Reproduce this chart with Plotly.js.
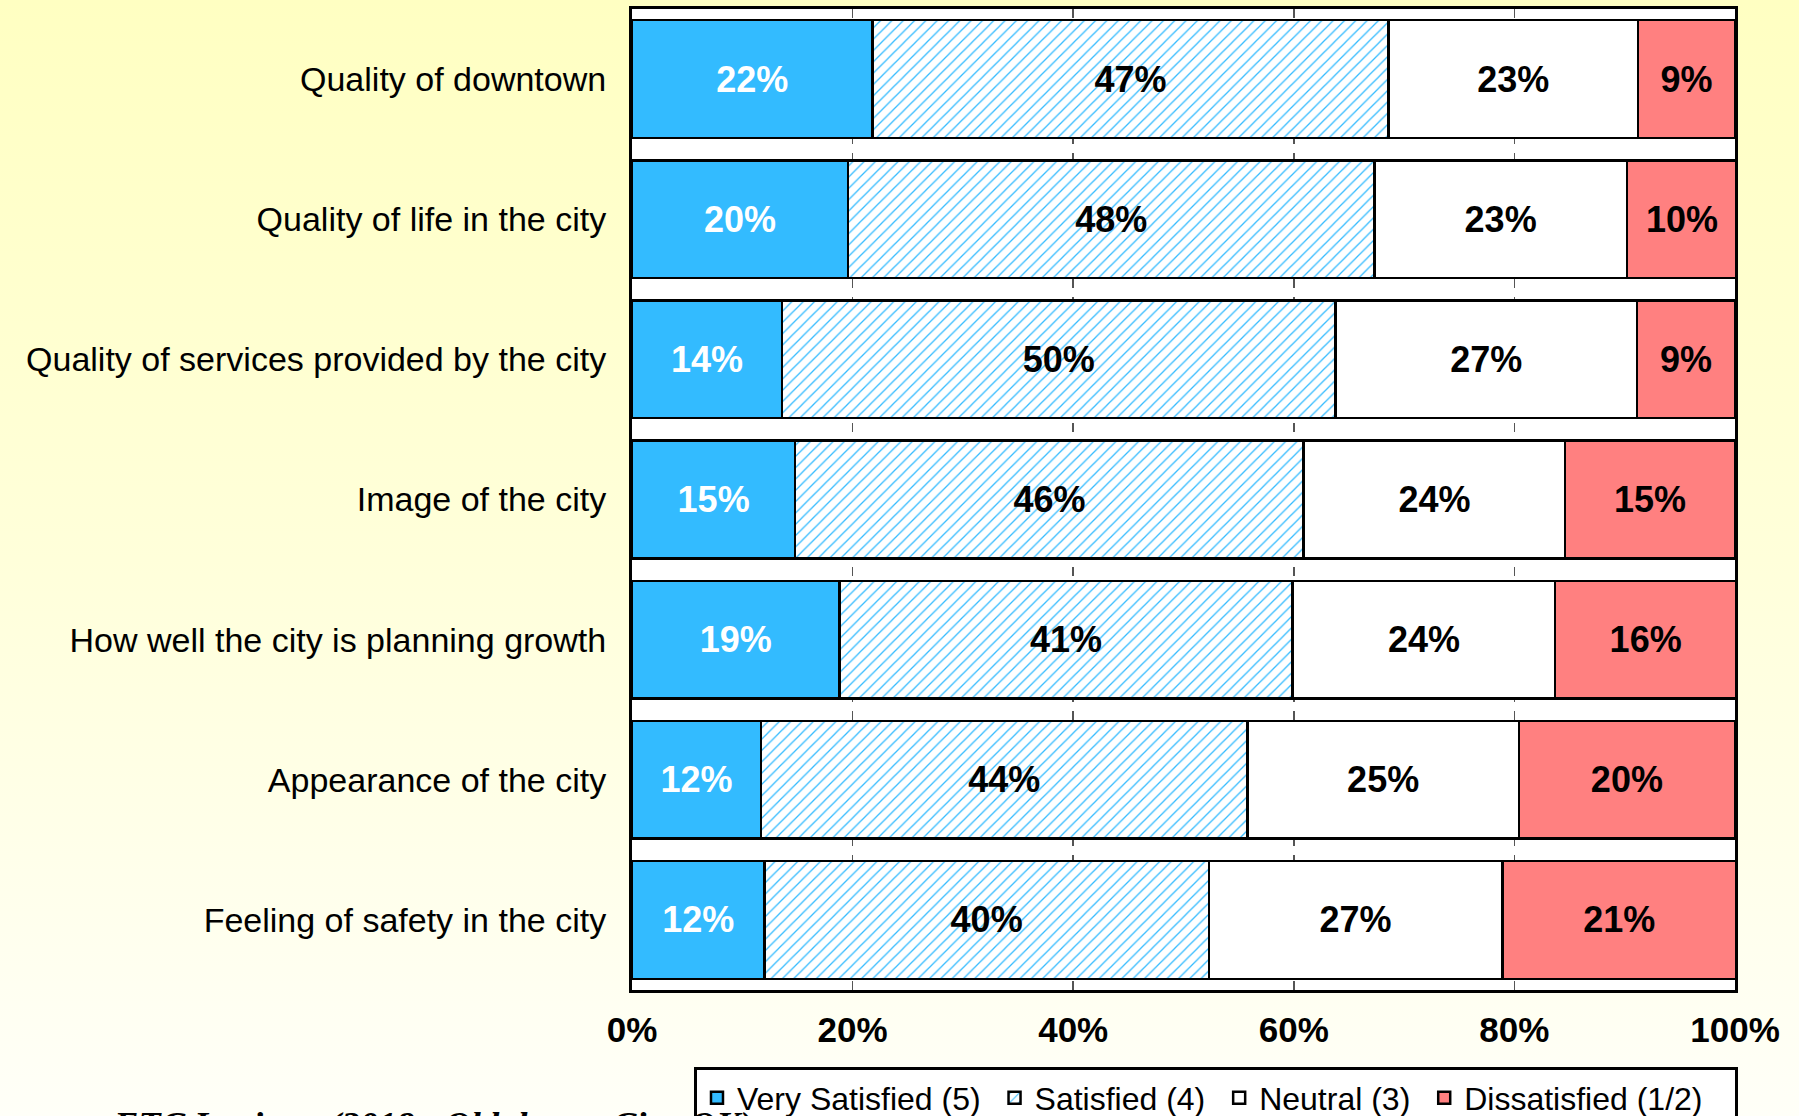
<!DOCTYPE html>
<html>
<head>
<meta charset="utf-8">
<script src="https://cdn.plot.ly/plotly-3.0.1.min.js"></script>
<style>
  html, body { margin: 0; padding: 0; width: 1799px; height: 1116px; overflow: hidden;
    background: linear-gradient(to bottom, #FFFFC2 0%, #FFFFDA 50%, #FFFFF8 100%); }
  #chart { width: 1799px; height: 1116px; }
</style>
</head>
<body>
<div id="chart"></div>
<script>
// Categories (top to bottom)
const categories = [
  "Quality of downtown",
  "Quality of life in the city",
  "Quality of services provided by the city",
  "Image of the city",
  "How well the city is planning growth",
  "Appearance of the city",
  "Feeling of safety in the city"
];
// Series values (percent)
const verySatisfied = [21.8, 19.6, 13.6, 14.8, 18.8, 11.7, 12.0];
const satisfied     = [46.8, 47.7, 50.2, 46.1, 41.1, 44.1, 40.3];
const neutral       = [22.6, 22.9, 27.3, 23.7, 23.8, 24.6, 26.6];
const dissatisfied  = [ 8.8, 10.0,  8.9, 15.4, 16.4, 19.6, 21.2];
const seriesNames = ["Very Satisfied (5)", "Satisfied (4)", "Neutral (3)", "Dissatisfied (1/2)"];
const xTickVals = [0, 20, 40, 60, 80, 100];
const xTickText = ["0%", "20%", "40%", "60%", "80%", "100%"];
const footnote = "ETC Institute (2018 - Oklahoma City, OK)";

const FONT = '"Liberation Sans", Arial, sans-serif';
const lineStyle = { color: "#000000", width: 2.5 };
const labelFont = (c) => ({ family: FONT, size: 36, color: c, weight: "bold" });
const NBSP = "\u00a0";

function barTrace(name, vals, markerOpts, textColor) {
  return {
    type: "bar",
    orientation: "h",
    name: name,
    y: categories,
    x: vals,
    texttemplate: "<b>%{x:.0f}%</b>",
    textposition: "inside",
    insidetextanchor: "middle",
    textangle: 0,
    constraintext: "none",
    textfont: labelFont(textColor),
    insidetextfont: labelFont(textColor),
    hoverinfo: "skip",
    cliponaxis: true,
    marker: Object.assign({ line: lineStyle }, markerOpts)
  };
}

const data = [
  barTrace(seriesNames[0] + NBSP, verySatisfied, { color: "#33BBFF" }, "#FFFFFF"),
  barTrace(seriesNames[1] + NBSP, satisfied, {
    color: "#FFFFFF",
    pattern: { shape: "/", fgcolor: "#33BBFF", bgcolor: "#FFFFFF", size: 8, solidity: 0.16, fillmode: "replace" }
  }, "#000000"),
  barTrace(seriesNames[2] + NBSP, neutral, { color: "#FFFFFF" }, "#000000"),
  barTrace(seriesNames[3] + NBSP + NBSP + NBSP, dissatisfied, { color: "#FF8080" }, "#000000")
];

const layout = {
  width: 1799,
  height: 1116,
  margin: { l: 632, r: 64, t: 9, b: 126, autoexpand: false },
  paper_bgcolor: "rgba(0,0,0,0)",
  plot_bgcolor: "#FFFFFF",
  barmode: "stack",
  bargap: 0.16,
  showlegend: true,
  font: { family: FONT, color: "#000000" },
  xaxis: {
    range: [0, 100],
    tickvals: xTickVals,
    ticktext: xTickText,
    tickfont: { family: FONT, size: 35, color: "#000000", weight: "bold" },
    ticks: "",
    ticklabelstandoff: 7,
    showgrid: true,
    gridcolor: "#555555",
    gridwidth: 1.5,
    griddash: "dash",
    zeroline: false,
    showline: true,
    mirror: true,
    linecolor: "#000000",
    linewidth: 3,
    fixedrange: true
  },
  yaxis: {
    type: "category",
    categoryorder: "array",
    categoryarray: categories,
    autorange: "reversed",
    tickfont: { family: FONT, size: 34, color: "#000000" },
    ticks: "",
    ticklabelstandoff: 16,
    showgrid: false,
    zeroline: false,
    showline: true,
    mirror: true,
    linecolor: "#000000",
    linewidth: 3,
    fixedrange: true
  },
  legend: {
    orientation: "h",
    x: 0.0562,
    xanchor: "left",
    y: -0.0790,
    yanchor: "top",
    bgcolor: "#FFFFFF",
    bordercolor: "#000000",
    borderwidth: 3,
    font: { family: FONT, size: 32, color: "#000000" },
    traceorder: "normal",
    itemclick: false,
    itemdoubleclick: false
  },
  annotations: [{
    text: "<i><b>" + footnote + "</b></i>",
    xref: "paper", yref: "paper",
    x: -0.4725, xanchor: "left",
    y: -0.1138, yanchor: "top",
    showarrow: false,
    font: { family: '"Liberation Serif", "Times New Roman", serif', size: 36.5, color: "#000000" }
  }]
};

Plotly.newPlot("chart", data, layout, { displayModeBar: false, staticPlot: true });
</script>
</body>
</html>
